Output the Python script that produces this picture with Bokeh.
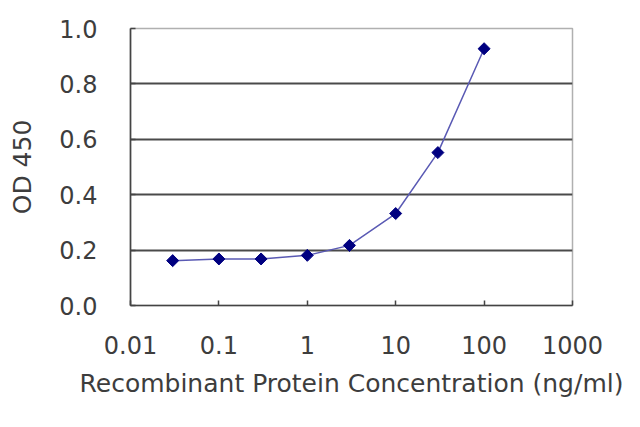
import math
from bokeh.plotting import figure
from bokeh.models import FixedTicker, Range1d, PrintfTickFormatter
from bokeh.embed import file_html
from bokeh.resources import INLINE

# data
concentration = [0.03, 0.1, 0.3, 1, 3, 10, 30, 100]
od450 = [0.162, 0.168, 0.168, 0.181, 0.217, 0.332, 0.552, 0.927]

x_ticks = [0.01, 0.1, 1, 10, 100, 1000]
x_tick_labels = ["0.01", "0.1", "1", "10", "100", "1000"]
y_ticks = [0.0, 0.2, 0.4, 0.6, 0.8, 1.0]
grid_levels = [0.2, 0.4, 0.6, 0.8]

FONT = "DejaVu Sans"
TXT = "#3d3d3d"

p = figure(width=624, height=411, x_axis_type="log",
           x_range=Range1d(0.01, 1000), y_range=Range1d(0, 1.0),
           output_backend="svg", toolbar_location=None,
           min_border_left=130, min_border_right=52,
           min_border_top=28, min_border_bottom=106)

p.background_fill_color = "white"
p.border_fill_color = "white"
p.outline_line_color = "#b0b0b0"
p.outline_line_width = 1.5

p.xgrid.visible = False
p.ygrid.ticker = FixedTicker(ticks=grid_levels)
p.ygrid.grid_line_color = "#4a4a4a"
p.ygrid.grid_line_width = 1.8

p.line(concentration, od450, line_color="#5a5ab4", line_width=1.5)
p.scatter(concentration, od450, marker="square", angle=math.pi / 4, size=8.5,
          fill_color="#000080", line_color="#000080")

xa = p.xaxis[0]
xa.ticker = FixedTicker(ticks=x_ticks)
xa.major_label_overrides = {t: l for t, l in zip(x_ticks, x_tick_labels)}
xa.axis_label = "Recombinant Protein Concentration (ng/ml)"
ya = p.yaxis[0]
ya.ticker = FixedTicker(ticks=y_ticks)
ya.formatter = PrintfTickFormatter(format="%.1f")
ya.axis_label = "OD 450"

for ax in (xa, ya):
    ax.axis_line_color = "#444444"
    ax.axis_line_width = 1.6
    ax.major_tick_line_color = "#444444"
    ax.major_tick_line_width = 1.5
    ax.major_tick_in = 5
    ax.major_tick_out = 0
    ax.minor_tick_line_color = None
    ax.major_label_text_font = FONT
    ax.major_label_text_font_size = "24px"
    ax.major_label_text_color = TXT
    ax.axis_label_text_font = FONT
    ax.axis_label_text_font_size = "25px"
    ax.axis_label_text_font_style = "normal"
    ax.axis_label_text_color = TXT

xa.major_label_standoff = 30
xa.axis_label_standoff = 12
ya.major_label_standoff = 33
ya.axis_label_standoff = 19

open("out.html", "w").write(file_html(p, INLINE))
